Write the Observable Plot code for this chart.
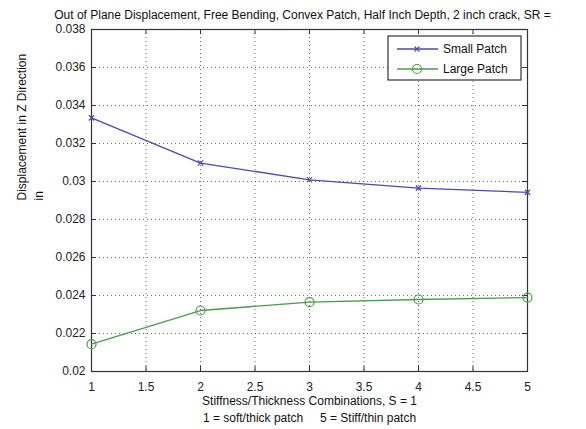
<!DOCTYPE html>
<html>
<head>
<meta charset="utf-8">
<script src="https://cdn.jsdelivr.net/npm/d3@7"></script>
<script src="https://cdn.jsdelivr.net/npm/@observablehq/plot@0.6"></script>
<style>
  html, body { margin: 0; padding: 0; background: #fff; }
  svg { font-family: "Liberation Sans", Arial, sans-serif; }
</style>
</head>
<body>
<div id="chart"></div>
<script>
const titleText = "Out of Plane Displacement, Free Bending, Convex Patch, Half Inch Depth, 2 inch crack, SR =";
const xLabelLines = "Stiffness/Thickness Combinations, S = 1\n1 = soft/thick patch     5 = Stiff/thin patch";
const yLabelLines = "Displacement in Z Direction\nin";
const combos = [1, 2, 3, 4, 5];
const smallPatch = [0.03335, 0.03097, 0.03009, 0.02965, 0.02943];
const largePatch = [0.02144, 0.02321, 0.02365, 0.02379, 0.02389];
const seriesNames = ["Small Patch", "Large Patch"];
const seriesColors = ["#4a4ab0", "#4f9a4f"];
const xTicks = [1, 1.5, 2, 2.5, 3, 3.5, 4, 4.5, 5];
const yTicks = [0.02, 0.022, 0.024, 0.026, 0.028, 0.03, 0.032, 0.034, 0.036, 0.038];

const smallData = combos.map((x, i) => ({x, y: smallPatch[i]}));
const largeData = combos.map((x, i) => ({x, y: largePatch[i]}));

const W = 586, H = 429;
const mL = 91, mR = 59, mT = 29, mB = 58;
const xMin = 1, xMax = 5, yMin = 0.02, yMax = 0.038;
const tkY = (yMax - yMin) / (H - mT - mB) * 5;
const tkX = (xMax - xMin) / (W - mL - mR) * 5;
const fmt = d => String(+d.toFixed(3));

const plot = Plot.plot({
  width: W, height: H,
  marginLeft: mL, marginRight: mR, marginTop: mT, marginBottom: mB,
  style: {fontSize: "12px", fontFamily: "Liberation Sans, Arial, sans-serif", background: "#fff", color: "#222"},
  x: {domain: [xMin, xMax]},
  y: {domain: [yMin, yMax]},
  marks: [
    Plot.gridX(xTicks.slice(1, -1), {stroke: "#444", strokeOpacity: 0.8, strokeDasharray: "1,3"}),
    Plot.gridY(yTicks.slice(1, -1), {stroke: "#444", strokeOpacity: 0.8, strokeDasharray: "1,3"}),
    Plot.ruleX(xTicks, {x: d => d, y1: yMin, y2: yMin + tkY, stroke: "#333"}),
    Plot.ruleX(xTicks, {x: d => d, y1: yMax, y2: yMax - tkY, stroke: "#333"}),
    Plot.ruleY(yTicks, {y: d => d, x1: xMin, x2: xMin + tkX, stroke: "#333"}),
    Plot.ruleY(yTicks, {y: d => d, x1: xMax, x2: xMax - tkX, stroke: "#333"}),
    Plot.axisX(xTicks, {tickSize: 0, tickPadding: 11, tickFormat: d => String(d), fontSize: 12, label: null}),
    Plot.axisY(yTicks, {tickSize: 0, tickPadding: 6, tickFormat: fmt, fontSize: 12, label: null}),
    Plot.frame({stroke: "#333", strokeWidth: 1.2}),
    Plot.line(smallData, {x: "x", y: "y", stroke: seriesColors[0], strokeWidth: 1.3}),
    Plot.dot(smallData, {x: "x", y: "y", symbol: "times", r: 2.5, stroke: seriesColors[0], strokeWidth: 1.2}),
    Plot.line(largeData, {x: "x", y: "y", stroke: seriesColors[1], strokeWidth: 1.3}),
    Plot.dot(largeData, {x: "x", y: "y", symbol: "circle", r: 4.5, stroke: seriesColors[1], fill: "none", strokeWidth: 1.2}),
    Plot.text([titleText], {frameAnchor: "top", lineAnchor: "middle", dy: -14, dx: -7, fontSize: 12, fill: "#111"}),
    Plot.text([xLabelLines], {frameAnchor: "bottom", lineAnchor: "top", dy: 22, fontSize: 12, lineHeight: 1.4, fill: "#111"}),
    Plot.text([yLabelLines], {frameAnchor: "left", dx: -62, rotate: -90, fontSize: 12, lineHeight: 1.4, fill: "#111"})
  ]
});

document.getElementById("chart").appendChild(plot);

// Legend inside the plot (top-right), MATLAB style
const svg = d3.select(plot);
const lx = 388, ly = 36, lw = 133, lh = 44;
const g = svg.append("g").attr("class", "legend").attr("text-anchor", "start");
g.append("rect").attr("x", lx).attr("y", ly).attr("width", lw).attr("height", lh)
  .attr("fill", "#fff").attr("stroke", "#333").attr("stroke-width", 1.2);
seriesNames.forEach((name, i) => {
  const yy = ly + 13 + i * 20;
  g.append("line").attr("x1", lx + 9).attr("x2", lx + 50).attr("y1", yy).attr("y2", yy)
    .attr("stroke", seriesColors[i]).attr("stroke-width", 1.3);
  const cx = lx + 29;
  if (i === 0) {
    g.append("path").attr("d", `M${cx-2.5},${yy-2.5}L${cx+2.5},${yy+2.5}M${cx-2.5},${yy+2.5}L${cx+2.5},${yy-2.5}`)
      .attr("stroke", seriesColors[i]).attr("stroke-width", 1.2);
  } else {
    g.append("circle").attr("cx", cx).attr("cy", yy).attr("r", 4.5)
      .attr("fill", "none").attr("stroke", seriesColors[i]).attr("stroke-width", 1.2);
  }
  g.append("text").attr("x", lx + 55).attr("y", yy).attr("dy", "0.35em")
    .attr("text-anchor", "start").attr("font-size", 12).attr("fill", "#111").text(name);
});
</script>
</body>
</html>
